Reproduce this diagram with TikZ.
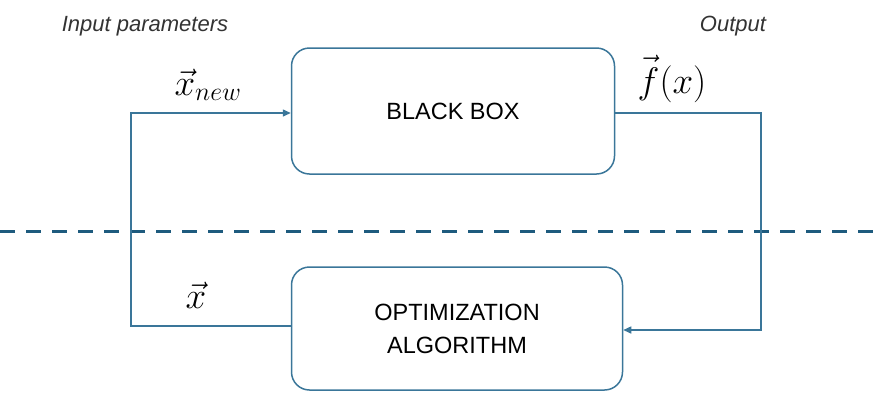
\RequirePackage{fix-cm}
\documentclass[tikz,border=0pt]{standalone}
\usepackage{fontspec}
\setmainfont{Liberation Sans}
\usetikzlibrary{arrows.meta}
\definecolor{boxline}{HTML}{3A7699}
\definecolor{sepline}{HTML}{1E5B7E}
\begin{document}
\begin{tikzpicture}[x=1pt,y=-1pt,
  blockbox/.style={draw=boxline,line width=1.5pt,rounded corners=18pt,
    minimum width=#1,align=center,inner sep=0pt,
    font=\fontsize{23.5}{33}\selectfont},
  wire/.style={draw=boxline,line width=1.5pt},
  tip/.style={-{Triangle[length=8pt,width=7pt]}},
  tag/.style={font=\fontsize{22}{26}\selectfont\itshape,text=black!80,inner sep=0pt},
  mathtag/.style={font=\fontsize{37}{42}\selectfont,inner sep=0pt}]
\useasboundingbox (0,0) rectangle (882,392);

% the two blocks
\node[blockbox=323pt,minimum height=126pt] (bb) at (453,111) {BLACK BOX};
\node[blockbox=331pt,minimum height=123pt] (opt) at (457,328.5) {OPTIMIZATION\\ALGORITHM};

% corner points of the loop
\coordinate (inTop) at (131,113);
\coordinate (inBot) at (131,326);
\coordinate (outTop) at (761,113);
\coordinate (outBot) at (761,330);

% separating dashed line
\coordinate (sepL) at (0,231);
\coordinate (sepR) at (882,231);
\draw[sepline,line width=3pt,dash pattern=on 15pt off 11pt] (sepL) -- (sepR);

% feedback loop
\draw[wire,tip] (opt.west |- inBot) -- (inBot) -- (inTop) -- (bb.west |- inTop);
\draw[wire,tip] (bb.east |- outTop) -- (outTop) -- (outBot) -- (opt.east |- outBot);

% labels
\node[tag,anchor=base] (lin) at (145,31) {Input parameters};
\node[tag,anchor=base] (lout) at (733,31) {Output};
\node[mathtag,anchor=base] (xnew) at (208,95) {$\vec{x}_{new}$};
\node[mathtag,anchor=base] (fx) at (672,93) {$\vec{f\vphantom{\big(}}(x)$};
\node[mathtag,anchor=base] (xv) at (196,308) {$\vec{x}$};
\end{tikzpicture}
\end{document}
